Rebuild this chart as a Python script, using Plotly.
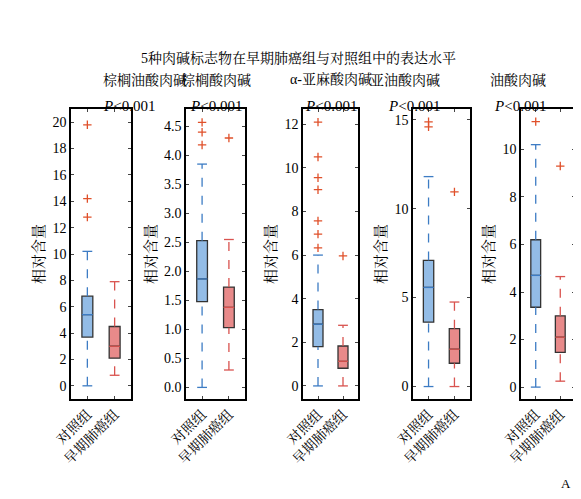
import plotly.graph_objects as go

W, H = 581, 499
names = ["棕榈油酸肉碱", "棕榈酸肉碱", "α-亚麻酸肉碱", "亚油酸肉碱", "油酸肉碱"]
groups = ["对照组", "早期肺癌组"]

# box stats per panel: [control, case] -> (lower, q1, median, q3, upper)
stats = [
    [(0, 3.7, 5.4, 6.8, 10.2), (0.8, 2.1, 3.0, 4.5, 7.9)],
    [(0, 1.48, 1.87, 2.53, 3.85), (0.3, 1.03, 1.38, 1.73, 2.55)],
    [(0, 1.8, 2.83, 3.5, 6.0), (0, 0.81, 1.13, 1.83, 2.78)],
    [(0, 3.62, 5.57, 7.09, 11.8), (0, 1.31, 2.1, 3.25, 4.75)],
    [(0, 3.36, 4.7, 6.2, 10.2), (0.25, 1.46, 2.1, 3.0, 4.65)],
]
outliers = [
    [[12.8, 14.2, 19.8], []],
    [[4.18, 4.4, 4.57], [4.3]],
    [[6.33, 6.96, 7.57, 9.0, 9.55, 10.5, 12.1], [5.96]],
    [[14.6, 14.88], [10.94]],
    [[11.17], [9.3]],
]
yranges = [[-1, 21], [-0.2, 4.8], [-0.6, 12.7], [-0.7, 15.6], [-0.5, 11.7]]
ydticks = [2, 0.5, 2, 5, 2]
ytickfmt = ["", ".1f", "", "", ""]
xpix = [(63, 123), (178, 237), (295, 350), (405, 462), (513, 567)]

fills = ["#93bce6", "#e88a8a"]
lines = ["#3d7cc4", "#d9534f"]
font = "Liberation Serif, Noto Serif CJK SC, Noto Sans CJK SC"

fig = go.Figure()
ydom = [1 - 391 / H, 1 - 101 / H]
half = 0.2
for p in range(5):
    ax = "" if p == 0 else str(p + 1)
    for g in range(2):
        lo, q1, md, q3, up = stats[p][g]
        fig.add_trace(go.Box(x=[g], q1=[q1], median=[md], q3=[q3], lowerfence=[q1], upperfence=[q3],
                             width=0.4, fillcolor=fills[g], line=dict(color="#333", width=1.3),
                             boxpoints=False, showlegend=False, xaxis="x" + ax, yaxis="y" + ax))
        fig.add_trace(go.Scatter(x=[g - half, g + half], y=[md, md], mode="lines",
                                 line=dict(color=lines[g], width=1.3), showlegend=False,
                                 xaxis="x" + ax, yaxis="y" + ax))
        for a, b in [(lo, q1), (q3, up)]:
            fig.add_trace(go.Scatter(x=[g, g], y=[a, b], mode="lines",
                                     line=dict(color=lines[g], width=1.3, dash="dash"), showlegend=False,
                                     xaxis="x" + ax, yaxis="y" + ax))
        fig.add_trace(go.Scatter(x=[g, g], y=[lo, up], mode="markers",
                                 marker=dict(symbol="line-ew", size=7, line=dict(color=lines[g], width=1.3)),
                                 showlegend=False, xaxis="x" + ax, yaxis="y" + ax))
        if outliers[p][g]:
            fig.add_trace(go.Scatter(x=[g] * len(outliers[p][g]), y=outliers[p][g], mode="markers",
                                     marker=dict(symbol="cross-thin", size=6, line=dict(color="#e0502a", width=1.3)),
                                     showlegend=False, xaxis="x" + ax, yaxis="y" + ax))
    x0, x1 = xpix[p]
    fig.layout["xaxis" + ax] = dict(domain=[x0 / W, x1 / W], range=[-0.6, 1.6], anchor="y" + ax,
                                    tickvals=[0, 1], ticktext=groups, tickangle=-45, ticks="inside",
                                    ticklen=3, mirror="allticks", showline=True, linecolor="black",
                                    linewidth=1.5, showgrid=False, zeroline=False, automargin=False,
                                    tickfont=dict(size=14, color="black"))
    fig.layout["yaxis" + ax] = dict(domain=ydom, range=yranges[p], anchor="x" + ax, dtick=ydticks[p],
                                    tick0=0, tickformat=ytickfmt[p],
                                    ticks="inside", ticklen=3, mirror="allticks", showline=True,
                                    linecolor="black", linewidth=1.5, showgrid=False, zeroline=False,
                                    automargin=False, tickfont=dict(size=14, color="black"),
                                    title=dict(text="相对含量", font=dict(size=15, color="black"), standoff=4))
    cx = (x0 + x1) / 2 / W
    fig.add_annotation(x=cx, y=1 - 62 / H, xref="paper", yref="paper", text=names[p], showarrow=False,
                       font=dict(size=14, color="black"))
    fig.add_annotation(x=cx, y=1 - 88 / H, xref="paper", yref="paper", text="<i>P</i><0.001", showarrow=False,
                       font=dict(size=15, color="black"))

fig.add_annotation(x=0.5, y=1 - 40 / H, xref="paper", yref="paper", showarrow=False,
                   text="5种肉碱标志物在早期肺癌组与对照组中的表达水平", font=dict(size=14, color="black"))
fig.add_annotation(x=565 / W, y=1 - 485 / H, xref="paper", yref="paper", showarrow=False,
                   text="A", font=dict(size=13, color="black"))
fig.update_layout(width=W, height=H, margin=dict(l=0, r=0, t=0, b=0), plot_bgcolor="white",
                  paper_bgcolor="white", font=dict(family=font), boxmode="overlay")
fig.write_html("out.html")
